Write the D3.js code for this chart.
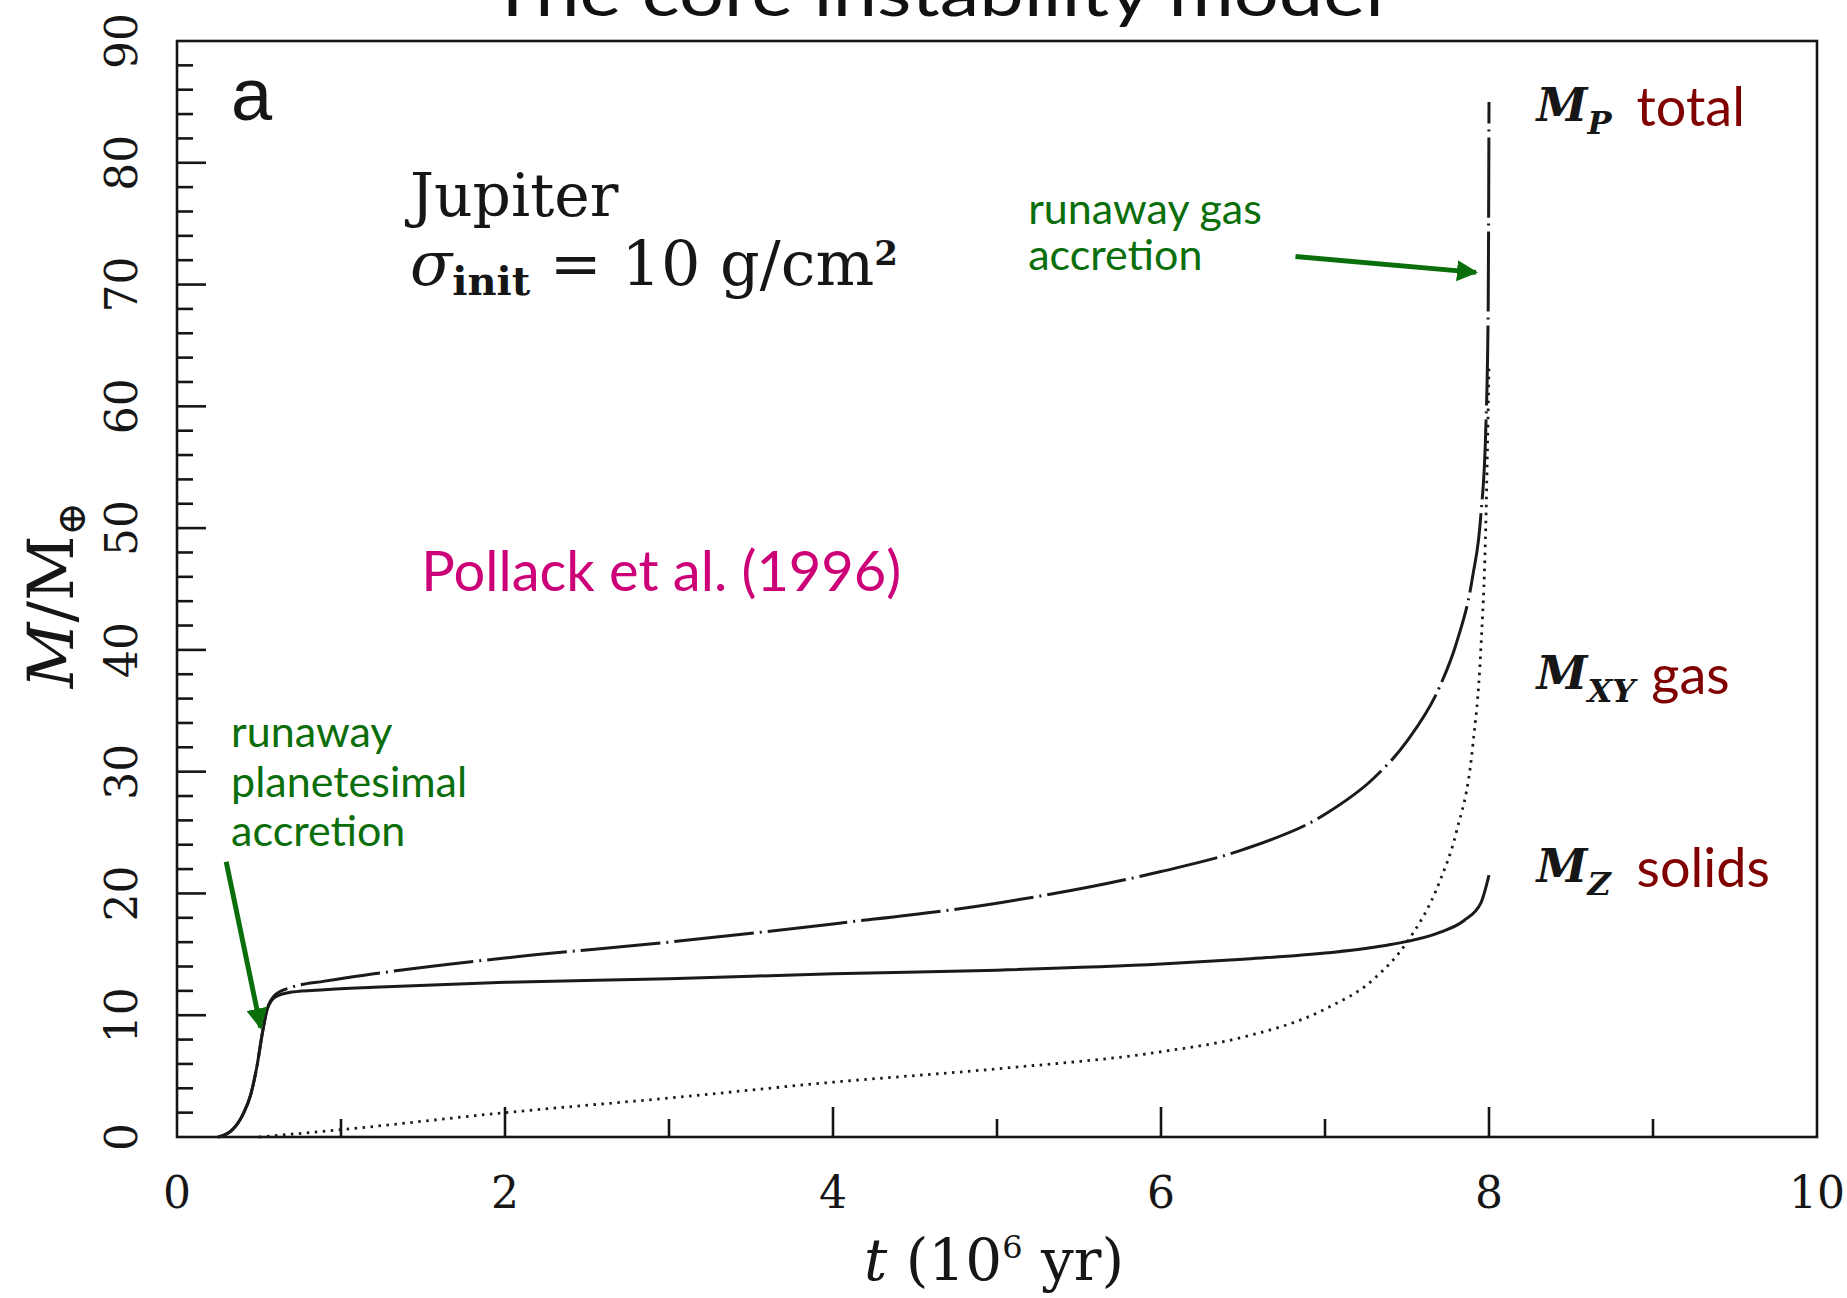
<!DOCTYPE html>
<html>
<head>
<meta charset="utf-8">
<script src="https://cdn.jsdelivr.net/npm/d3@7/dist/d3.min.js"></script>
<style>
    body { margin: 0; background: #fff; }
    .frame { fill: none; stroke: #161616; stroke-width: 2.6; }
    .tick-mark { stroke: #161616; stroke-width: 2.6; }
    .tick-label { font-family: "DejaVu Serif"; font-size: 44px; fill: #161616; }
    .curve { fill: none; stroke: #1a1a1a; }
    .serif { font-family: "DejaVu Serif"; fill: #161616; }
    .hand { font-family: "Lato", "Open Sans", sans-serif; }
</style>
</head>
<body>
<div id="graphHolder" style="width:1847px;height:1298px"></div>
<script>
'use strict'
var solidsTime  = [0.25, 0.33, 0.40, 0.45, 0.49, 0.52, 0.55, 0.60, 0.70, 0.90, 1.2, 2.0, 3.0, 4.0, 5.0, 6.0, 6.5, 7.0, 7.4, 7.7, 7.85, 7.95, 8.0];
var solidsMass  = [0, 0.5, 1.8, 3.5, 6.0, 8.5, 10.5, 11.5, 11.9, 12.1, 12.3, 12.7, 13.0, 13.4, 13.7, 14.2, 14.6, 15.1, 15.8, 16.8, 17.8, 19.2, 21.5];

var totalTime   = [0.25, 0.33, 0.40, 0.45, 0.49, 0.52, 0.55, 0.60, 0.70, 0.90, 1.2, 2.0, 3.0, 4.0, 5.0, 6.0, 6.5, 7.0, 7.3, 7.5, 7.7, 7.8, 7.9, 7.95, 7.98, 7.995, 8.0];
var totalMass   = [0, 0.5, 1.8, 3.5, 6.0, 8.5, 10.5, 11.7, 12.3, 12.8, 13.4, 14.7, 16.0, 17.5, 19.2, 21.8, 23.6, 26.5, 29.5, 32.5, 37.0, 40.5, 46.0, 51.0, 58.0, 68.0, 85.0];

var gasTime     = [0.5, 1.0, 2.0, 3.0, 4.0, 5.0, 6.0, 6.5, 7.0, 7.3, 7.5, 7.7, 7.8, 7.9, 7.95, 7.98, 8.0];
var gasMass     = [0, 0.6, 2.0, 3.2, 4.5, 5.6, 7.0, 8.2, 10.5, 13.0, 16.0, 21.0, 25.0, 32.0, 40.0, 50.0, 63.5];

var xTickLabels = [0, 2, 4, 6, 8, 10];
var yTickLabels = [0, 10, 20, 30, 40, 50, 60, 70, 80, 90];

function coreAccretionChart() {
    var _chart = {};
    var _margins = {top: 41, left: 177, right: 30, bottom: 161};
    var _width = 1847, _height = 1298;
    var _svg, _bodyG, _xScale, _yScale;

    _chart.render = function () {
        _svg = d3.select("div#graphHolder").append("svg")
                .attr("width", _width)
                .attr("height", _height);

        _xScale = d3.scaleLinear().domain([0, 10]).range([0, quadrantWidth()]);
        _yScale = d3.scaleLinear().domain([0, 90]).range([quadrantHeight(), 0]);

        defineArrowHead();
        renderTitle();

        _bodyG = _svg.append("g")
                .attr("transform", "translate(" + _margins.left + "," + _margins.top + ")");

        renderFrame();
        renderCurves();
        renderAnnotations();
    };

    function defineArrowHead() {
        _svg.append("defs").append("marker")
                .attr("id", "greenHead")
                .attr("viewBox", "0 0 10 10")
                .attr("refX", 9).attr("refY", 5)
                .attr("markerWidth", 4.2).attr("markerHeight", 4.2)
                .attr("orient", "auto")
                .append("path")
                .attr("d", "M0,0 L10,5 L0,10 z")
                .style("fill", "#0a6e0a");
    }

    function renderTitle() {
        // the title sits mostly above the top edge, as in the source slide
        _svg.append("text")
                .attr("class", "hand")
                .attr("x", 489).attr("y", 16)
                .attr("textLength", 895)
                .attr("lengthAdjust", "spacingAndGlyphs")
                .style("font-size", "66px")
                .style("fill", "#111")
                .text("The core instability model");
    }

    function renderFrame() {
        var minorY = d3.range(2, 90, 2).filter(function (v) { return v % 10 !== 0; });
        var majorY = d3.range(10, 90, 10);
        var minorX = [1, 3, 5, 7, 9];
        var majorX = [2, 4, 6, 8];

        _bodyG.selectAll("line.ymin").data(minorY).enter().append("line")
                .attr("class", "tick-mark ymin")
                .attr("x1", 0).attr("x2", 16)
                .attr("y1", function (d) { return _yScale(d); })
                .attr("y2", function (d) { return _yScale(d); });
        _bodyG.selectAll("line.ymaj").data(majorY).enter().append("line")
                .attr("class", "tick-mark ymaj")
                .attr("x1", 0).attr("x2", 29)
                .attr("y1", function (d) { return _yScale(d); })
                .attr("y2", function (d) { return _yScale(d); });
        _bodyG.selectAll("line.xmin").data(minorX).enter().append("line")
                .attr("class", "tick-mark xmin")
                .attr("y1", quadrantHeight()).attr("y2", quadrantHeight() - 18)
                .attr("x1", function (d) { return _xScale(d); })
                .attr("x2", function (d) { return _xScale(d); });
        _bodyG.selectAll("line.xmaj").data(majorX).enter().append("line")
                .attr("class", "tick-mark xmaj")
                .attr("y1", quadrantHeight()).attr("y2", quadrantHeight() - 30)
                .attr("x1", function (d) { return _xScale(d); })
                .attr("x2", function (d) { return _xScale(d); });

        _bodyG.append("rect")
                .attr("class", "frame")
                .attr("width", quadrantWidth())
                .attr("height", quadrantHeight());

        _bodyG.selectAll("text.xlab").data(xTickLabels).enter().append("text")
                .attr("class", "tick-label xlab")
                .attr("text-anchor", "middle")
                .attr("x", function (d) { return _xScale(d); })
                .attr("y", quadrantHeight() + 71)
                .text(function (d) { return d; });

        _bodyG.selectAll("text.ylab").data(yTickLabels).enter().append("text")
                .attr("class", "tick-label ylab")
                .attr("text-anchor", "middle")
                .attr("transform", function (d) {
                    return "translate(-40," + _yScale(d) + ") rotate(-90)";
                })
                .text(function (d) { return d; });

        // axis titles
        var xt = _bodyG.append("text")
                .attr("class", "serif")
                .attr("text-anchor", "middle")
                .attr("x", _xScale(5.0) - 3)
                .attr("y", quadrantHeight() + 143)
                .style("font-size", "58px");
        xt.append("tspan").style("font-style", "italic").text("t");
        xt.append("tspan").text(" (10");
        xt.append("tspan").attr("dy", -22).style("font-size", "32px").text("6");
        xt.append("tspan").attr("dy", 22).text(" yr)");

        var yt = _bodyG.append("text")
                .attr("class", "serif")
                .attr("text-anchor", "middle")
                .attr("transform", "translate(-104," + _yScale(44.5) + ") rotate(-90)")
                .style("font-size", "64px");
        yt.append("tspan").style("font-style", "italic").text("M");
        yt.append("tspan").text("/M");
        yt.append("tspan").attr("dy", 12).style("font-size", "40px").text("\u2295");
    }

    function renderCurves() {
        var line = d3.line()
                .x(function (d) { return _xScale(d[0]); })
                .y(function (d) { return _yScale(d[1]); })
                .curve(d3.curveMonotoneX);

        _bodyG.append("path").attr("class", "curve")
                .attr("d", line(d3.zip(gasTime, gasMass)))
                .style("stroke-width", 2.8)
                .style("stroke-dasharray", "2.5,5.5");

        _bodyG.append("path").attr("class", "curve")
                .attr("d", line(d3.zip(solidsTime, solidsMass)))
                .style("stroke-width", 3);

        _bodyG.append("path").attr("class", "curve")
                .attr("d", line(d3.zip(totalTime, totalMass)))
                .style("stroke-width", 3)
                .style("stroke-dasharray", "80,6,2,6");
    }

    function renderAnnotations() {
        _bodyG.append("text")
                .attr("x", _xScale(0.33)).attr("y", _yScale(83.5))
                .style("font-family", "Liberation Sans")
                .style("font-size", "74px")
                .style("fill", "#161616")
                .text("a");

        _bodyG.append("text").attr("class", "serif")
                .attr("x", _xScale(1.42)).attr("y", _yScale(75.6))
                .style("font-size", "60px")
                .text("Jupiter");
        var sig = _bodyG.append("text").attr("class", "serif")
                .attr("x", _xScale(1.42)).attr("y", _yScale(70.0))
                .style("font-size", "62px");
        sig.append("tspan").style("font-style", "italic").text("\u03C3");
        sig.append("tspan").attr("dy", 10).style("font-size", "40px").style("font-weight", "bold").text("init");
        sig.append("tspan").attr("dy", -10).text(" = 10 g/cm");
        sig.append("tspan").attr("dy", -20).style("font-size", "34px").style("font-weight", "bold").text("2");

        var green = "#0a6e0a";
        [["runaway gas", 75.0], ["accretion", 71.2]].forEach(function (r) {
            _bodyG.append("text").attr("class", "hand")
                    .attr("x", _xScale(5.19)).attr("y", _yScale(r[1]))
                    .style("font-size", "43px").style("fill", green)
                    .text(r[0]);
        });
        _bodyG.append("line")
                .attr("x1", _xScale(6.82)).attr("y1", _yScale(72.3))
                .attr("x2", _xScale(7.92)).attr("y2", _yScale(71.0))
                .style("stroke", green).style("stroke-width", 5)
                .attr("marker-end", "url(#greenHead)");

        [["runaway", 32.0], ["planetesimal", 27.9], ["accretion", 23.9]].forEach(function (r) {
            _bodyG.append("text").attr("class", "hand")
                    .attr("x", _xScale(0.33)).attr("y", _yScale(r[1]))
                    .style("font-size", "43px").style("fill", green)
                    .text(r[0]);
        });
        _bodyG.append("line")
                .attr("x1", _xScale(0.30)).attr("y1", _yScale(22.6))
                .attr("x2", _xScale(0.51)).attr("y2", _yScale(9.0))
                .style("stroke", green).style("stroke-width", 5)
                .attr("marker-end", "url(#greenHead)");

        _bodyG.append("text").attr("class", "hand")
                .attr("x", _xScale(1.49)).attr("y", _yScale(44.8))
                .style("font-size", "56px").style("fill", "#cc0077")
                .text("Pollack et al. (1996)");

        var labels = [
            {sub: "P", word: "total", m: 83.4, wx: 8.9},
            {sub: "XY", word: "gas", m: 36.8, wx: 8.99},
            {sub: "Z", word: "solids", m: 20.9, wx: 8.9}
        ];
        labels.forEach(function (l) {
            var t = _bodyG.append("text").attr("class", "serif")
                    .attr("x", _xScale(8.29)).attr("y", _yScale(l.m))
                    .style("font-size", "46px")
                    .style("font-style", "italic").style("font-weight", "bold");
            t.append("tspan").text("M");
            t.append("tspan").attr("dy", 13).style("font-size", "32px").text(l.sub);
            _bodyG.append("text").attr("class", "hand")
                    .attr("x", _xScale(l.wx)).attr("y", _yScale(l.m - 0.4))
                    .style("font-size", "54px").style("fill", "#800000")
                    .text(l.word);
        });
    }

    function quadrantWidth() {
        return _width - _margins.left - _margins.right;
    }

    function quadrantHeight() {
        return _height - _margins.top - _margins.bottom;
    }

    return _chart;
}

var chart = coreAccretionChart();
chart.render();
</script>
</body>
</html>
